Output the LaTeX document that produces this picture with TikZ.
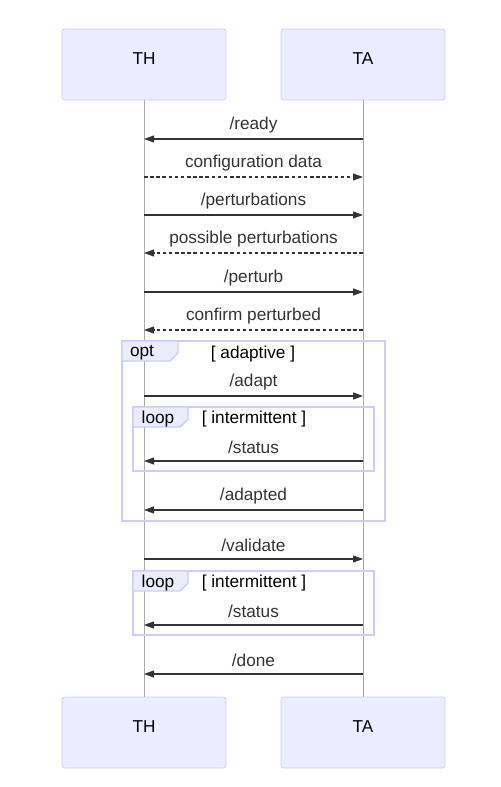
\documentclass[tikz,border=0pt]{standalone}
\usepackage{fontspec}
\setmainfont{Liberation Sans}
\usetikzlibrary{arrows.meta}
\definecolor{actfill}{HTML}{ECECFF}
\definecolor{actline}{HTML}{CCCCFF}
\definecolor{msgline}{HTML}{333333}
\definecolor{lifeline}{HTML}{AAAAAA}

\begin{document}
\begin{tikzpicture}[x=0.02cm, y=-0.02cm, font=\fontsize{9.8}{12}\selectfont,
  actor/.style={draw=actline, fill=actfill, rounded corners=1.5pt,
    minimum width=3.28cm, minimum height=1.42cm, inner sep=0pt},
  acttext/.style={text=black},
  life/.style={draw=lifeline, line width=0.4pt},
  msg/.style={draw=msgline, line width=0.6pt, -{Triangle[length=2mm,width=1.4mm]}},
  reply/.style={msg, dash pattern=on 2pt off 1.5pt},
  lbl/.style={midway, yshift=0.28cm, text=msgline},
  frame/.style={draw=actline, line width=0.8pt},
  tab/.style={frame, fill=actfill}]
  \useasboundingbox (0,0) rectangle (500,787);
  % actors
  \node[actor] (thT) at (144,64.5) {};
  \node[actor] (taT) at (363,64.5) {};
  \node[actor] (thB) at (144,732.5) {};
  \node[actor] (taB) at (363,732.5) {};
  \node[acttext] (thTtxt) at (144,58.5) {TH};
  \node[acttext] (taTtxt) at (363,58.5) {TA};
  \node[acttext] (thBtxt) at (144,726.5) {TH};
  \node[acttext] (taBtxt) at (363,726.5) {TA};
  \draw[life] (thT.south) -- (thB.north);
  \draw[life] (taT.south) -- (taB.north);
  % points on the lifelines
  \foreach \n/\y in {1/139,2/177,3/215,4/253,5/292,6/330,7/396,8/461,9/510,10/559,11/625,12/674}
    {\coordinate (h\n) at (144,\y); \coordinate (a\n) at (363,\y);}
  % opt [ adaptive ]
  \draw[frame] (122,341) rectangle (385,521);
  \draw[tab] (122,341) -- (178,341) -- (178,353) -- (170,361) -- (122,361) -- cycle;
  \node (optlbl) at (142,353) {opt};
  \node (optcond) at (253,354) {[ adaptive ]};
  % loop [ intermittent ]
  \draw[frame] (133,407) rectangle (374,471);
  \draw[tab] (133,407) -- (188,407) -- (188,419) -- (180,427) -- (133,427) -- cycle;
  \node (looplbl) at (158,419) {loop};
  \node (loopcond) at (254,419) {[ intermittent ]};
  % loop [ intermittent ]
  \draw[frame] (133,571) rectangle (374,635);
  \draw[tab] (133,571) -- (188,571) -- (188,583) -- (180,591) -- (133,591) -- cycle;
  \node (looplbltwo) at (158,583) {loop};
  \node (loopcondtwo) at (254,583) {[ intermittent ]};
  % messages
  \draw[msg] (a1) -- node[lbl] {/ready} (h1);
  \draw[reply] (h2) -- node[lbl] {configuration data} (a2);
  \draw[msg] (h3) -- node[lbl] {/perturbations} (a3);
  \draw[reply] (a4) -- node[lbl] {possible perturbations} (h4);
  \draw[msg] (h5) -- node[lbl] {/perturb} (a5);
  \draw[reply] (a6) -- node[lbl] {confirm perturbed} (h6);
  \draw[msg] (h7) -- node[lbl] {/adapt} (a7);
  \draw[msg] (a8) -- node[lbl] {/status} (h8);
  \draw[msg] (a9) -- node[lbl] {/adapted} (h9);
  \draw[msg] (h10) -- node[lbl] {/validate} (a10);
  \draw[msg] (a11) -- node[lbl] {/status} (h11);
  \draw[msg] (a12) -- node[lbl] {/done} (h12);
\end{tikzpicture}
\end{document}
